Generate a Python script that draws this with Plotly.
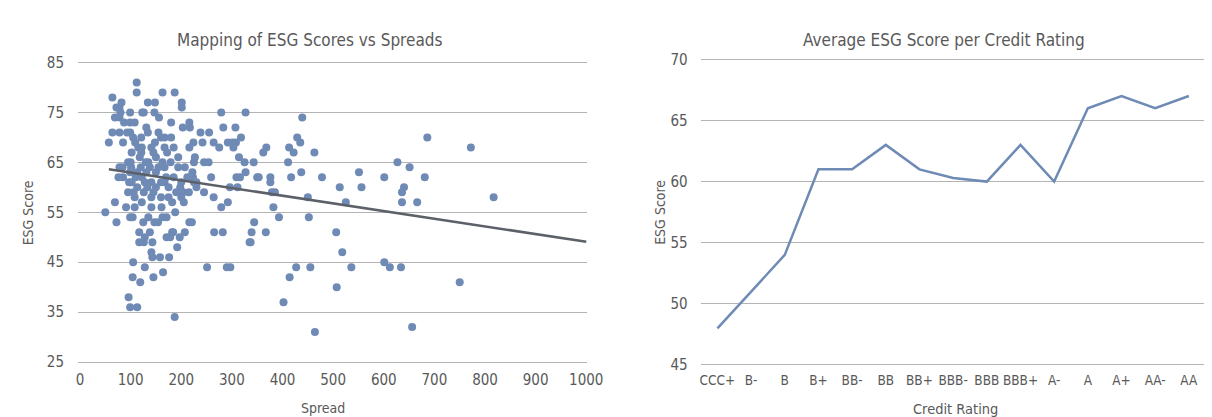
import plotly.graph_objects as go

# ---- Left chart data: Spread vs ESG score ----
spread = [112,112,163,187,64,201,201,134,148,82,72,78,80,99,123,126,147,279,327,69,78,156,439,87,99,108,180,216,
          64,78,93,99,131,134,203,217,238,255,283,307,57,85,105,109,121,148,160,167,180,224,242,264,292,301,308,318,
          303,275,216,141,167,115,122,102,121,362,368,413,422,429,435,463,686,772,194,227,314,130,135,95,100,163,179,
          225,245,254,325,343,411,627,78,84,101,138,155,167,194,207,651,76,85,99,122,222,223,259,309,316,327,350,353,
          376,417,478,551,601,681,437,97,102,128,141,160,167,225,376,95,106,126,145,190,204,245,379,385,636,296,311,
          513,556,640,108,141,175,264,450,817,122,182,69,292,525,636,666,91,108,141,161,188,279,382,393,452,
          50,72,99,104,117,117,125,126,128,105,104,119,96,99,113,128,135,138,141,143,143,145,147,154,158,164,163,171,
          171,178,182,176,184,192,197,207,216,221,187,251,265,282,290,297,335,337,339,344,367,402,414,427,455,464,506,
          507,518,536,601,612,634,656,750,
          118,150,113,131,150,170,185,200,113,133,150,175,198,120,145,155,172,185,110,160,200,212,230,215,205,230]
esg = [81,79,79,79,78,77,76,77,77,77,76,76,75,75,75,75,75,75,75,74,74,74,74,73,73,73,73,73,
       71,71,71,71,72,71,72,72,71,71,72,72,69,69,70,69,70,69,70,70,70,69,69,69,69,69,69,70,
       68,68,68,68,68,68,68,67,67,67,68,68,67,70,69,67,70,68,66,66,66,65,65,65,65,65,65,
       65,65,65,65,65,65,65,64,64,64,64,64,64,64,64,64,62,62,63,62,63,62,62,62,62,63,62,62,
       62,62,62,63,62,62,63,61,61,61,61,61,61,61,61,59,59,59,59,59,59,59,59,59,59,60,60,
       60,60,60,58,58,58,58,58,58,57,57,57,57,57,57,57,56,56,56,56,55,56,56,54,54,
       55,53,54,54,51,49,53,49,50,45,42,41,38,36,36,44,54,51,47,46,49,42,53,53,46,43,54,54,
       50,50,51,46,51,48,50,51,53,53,34,44,51,51,44,44,49,49,51,53,51,37,42,44,44,31,51,
       40,47,44,45,44,44,32,41,
       66,66,63,63,63,62,62,61,60,60,60,60,60,64,67,71,67,68,62,58,58,62,60,59,57,61]

# Fitted trend line
trend_x = [57, 1000]
trend_y = [63.6, 49.1]

# ---- Right chart data: Average ESG score per rating ----
ratings = ["CCC+", "B-", "B", "B+", "BB-", "BB", "BB+", "BBB-", "BBB", "BBB+", "A-", "A", "A+", "AA-", "AA"]
avg_esg = [48, 51, 54, 61, 61, 63, 61, 60.3, 60, 63, 60, 66, 67, 66, 67]

left_ticks = [25, 35, 45, 55, 65, 75, 85]
right_ticks = [45, 50, 55, 60, 65, 70]
x_ticks = [0, 100, 200, 300, 400, 500, 600, 700, 800, 900, 1000]

FONT = "DejaVu Sans Condensed, Liberation Sans Narrow, Roboto, sans-serif"
TXT = "#595959"
GRID = "#b4b4b4"
BLUE = "#6f8ab5"

W, H = 1212, 417

fig = go.Figure()
fig.add_trace(go.Scatter(x=spread, y=esg, mode="markers",
                         marker=dict(color=BLUE, size=8, line=dict(width=0)),
                         xaxis="x", yaxis="y", showlegend=False))
fig.add_trace(go.Scatter(x=trend_x, y=trend_y, mode="lines",
                         line=dict(color="#5c6169", width=2.5),
                         xaxis="x", yaxis="y", showlegend=False))
fig.add_trace(go.Scatter(x=ratings, y=avg_esg, mode="lines",
                         line=dict(color=BLUE, width=2.5),
                         xaxis="x2", yaxis="y2", showlegend=False))

def px(v):
    return v / W

def py(v):
    return 1 - v / H

fig.update_layout(
    width=W, height=H,
    margin=dict(l=0, r=0, t=0, b=0),
    paper_bgcolor="white", plot_bgcolor="white",
    font=dict(family=FONT, color=TXT, size=15),
    xaxis=dict(domain=[px(69), px(586)], range=[-4, 1002], tickvals=x_ticks,
               showgrid=False, zeroline=False, showline=False, ticks="",
               tickfont=dict(size=15, color=TXT), anchor="y", ticklabelstandoff=6),
    yaxis=dict(domain=[py(361.3), py(48)], range=[24.75, 85.25], tickvals=left_ticks,
               showgrid=True, gridcolor=GRID, gridwidth=1.2, zeroline=False,
               showline=False, ticks="", tickfont=dict(size=15, color=TXT),
               anchor="x", ticklabelstandoff=13),
    xaxis2=dict(domain=[px(701), 1.0], range=[-0.5, 14.45], type="category",
                showgrid=False, zeroline=False, showline=False, ticks="",
                tickangle=0, tickfont=dict(size=13.5, color=TXT), anchor="y2",
                ticklabelstandoff=4),
    yaxis2=dict(domain=[py(364.3), py(44.7)], range=[44.9, 70.1], tickvals=right_ticks,
                showgrid=True, gridcolor=GRID, gridwidth=1.2, zeroline=False,
                showline=False, ticks="", tickfont=dict(size=15, color=TXT),
                anchor="x2", ticklabelstandoff=12),
)

annotations = [
    dict(text="Mapping of ESG Scores vs Spreads", x=px(305), y=py(26), size=17),
    dict(text="Average ESG Score per Credit Rating", x=px(948), y=py(26), size=17),
    dict(text="Spread", x=px(318), y=py(408), size=14),
    dict(text="Credit Rating", x=px(960), y=py(409), size=14.5),
]
for a in annotations:
    fig.add_annotation(text=a["text"], x=a["x"], y=a["y"], xref="paper", yref="paper",
                       showarrow=False, xanchor="center", yanchor="middle",
                       font=dict(family=FONT, size=a["size"], color=TXT))
for xv in (px(18), px(659)):
    fig.add_annotation(text="ESG Score", x=xv, y=py(205), xref="paper", yref="paper",
                       showarrow=False, textangle=-90, xanchor="center", yanchor="middle",
                       font=dict(family=FONT, size=14, color=TXT))

fig.write_html("out.html")
